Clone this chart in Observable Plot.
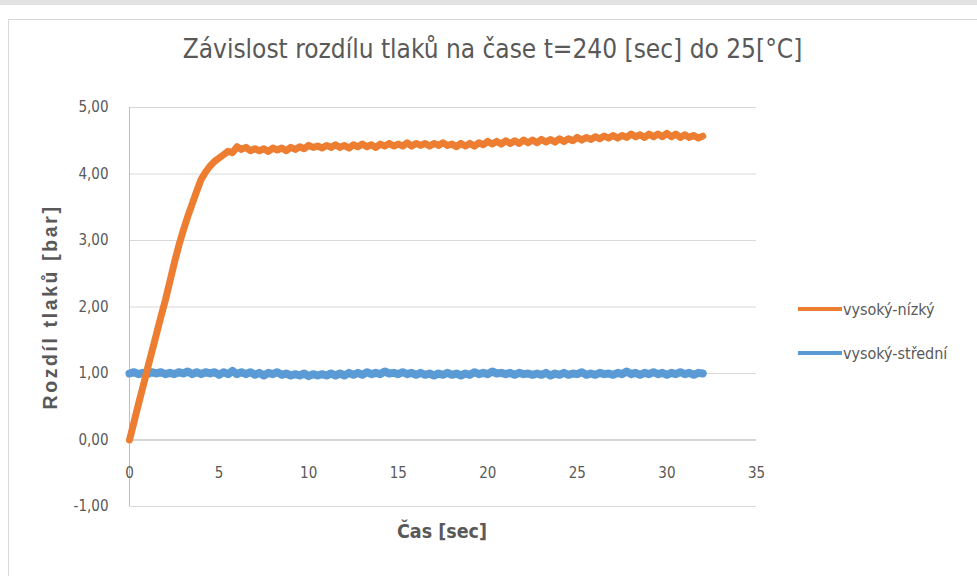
<!DOCTYPE html>
<html><head><meta charset="utf-8">
<script src="https://cdn.jsdelivr.net/npm/d3@7"></script>
<script src="https://cdn.jsdelivr.net/npm/@observablehq/plot@0.6"></script>
<style>
html,body{margin:0;padding:0;background:#fff;}
#wrap{position:relative;width:977px;height:576px;overflow:hidden;font-family:"Liberation Sans Narrow","DejaVu Sans Condensed",sans-serif;color:#595959;}
#topbar{position:absolute;left:0;top:0;width:977px;height:5px;background:#e3e3e3;}
#frame{position:absolute;left:8px;top:19px;width:985px;height:580px;border:1px solid #d9d9d9;}
#chart{position:absolute;left:0;top:0;}
#title{position:absolute;left:8px;width:969px;top:34px;text-align:center;font-size:26px;white-space:nowrap;}
#ylabel{position:absolute;left:50px;top:307px;transform:translate(-50%,-50%) rotate(-90deg);font-family:"Liberation Sans","DejaVu Sans",sans-serif;font-weight:bold;font-size:19.5px;letter-spacing:2.6px;white-space:nowrap;}
#xlabel{position:absolute;left:442px;top:531px;transform:translate(-50%,-50%);font-size:19.5px;font-weight:bold;white-space:nowrap;}
#legend{position:absolute;left:798px;top:298px;font-size:16px;}
.item{display:flex;align-items:center;height:22px;margin-bottom:22px;white-space:nowrap;}
.sw{display:inline-block;width:44px;height:4px;margin-right:1px;}
</style></head>
<body>
<div id="wrap">
  <div id="topbar"></div>
  <div id="frame"></div>
  <div id="chart"></div>
  <div id="title"></div>
  <div id="ylabel"></div>
  <div id="xlabel"></div>
  <div id="legend"></div>
</div>
<script>
const titleText = "Závislost rozdílu tlaků na čase t=240 [sec] do 25[°C]";
const yLabel = "Rozdíl tlaků [bar]";
const xLabel = "Čas [sec]";
const seriesNames = ["vysoký-nízký", "vysoký-střední"];
const seriesColors = ["#ED7D31", "#5B9BD5"];
const xTicks = [0, 5, 10, 15, 20, 25, 30, 35];
const yTicks = [-1, 0, 1, 2, 3, 4, 5];

const time = [0,0.25,0.5,0.75,1,1.25,1.5,1.75,2,2.25,2.5,2.75,3,3.25,3.5,3.75,4,4.25,4.5,4.75,
5,5.25,5.5,5.75,6,6.25,6.5,6.75,7,7.25,7.5,7.75,8,8.25,8.5,8.75,9,9.25,9.5,9.75,
10,10.25,10.5,10.75,11,11.25,11.5,11.75,12,12.25,12.5,12.75,13,13.25,13.5,13.75,14,14.25,14.5,14.75,
15,15.25,15.5,15.75,16,16.25,16.5,16.75,17,17.25,17.5,17.75,18,18.25,18.5,18.75,19,19.25,19.5,19.75,
20,20.25,20.5,20.75,21,21.25,21.5,21.75,22,22.25,22.5,22.75,23,23.25,23.5,23.75,24,24.25,24.5,24.75,
25,25.25,25.5,25.75,26,26.25,26.5,26.75,27,27.25,27.5,27.75,28,28.25,28.5,28.75,29,29.25,29.5,29.75,
30,30.25,30.5,30.75,31,31.25,31.5,31.75,32];

const vysokyNizky = [0.00,0.27,0.54,0.80,1.07,1.33,1.59,1.85,2.10,2.38,2.66,2.92,3.15,3.36,3.55,3.74,3.92,4.03,4.12,4.19,
4.24,4.29,4.34,4.32,4.41,4.37,4.40,4.35,4.38,4.35,4.38,4.34,4.39,4.36,4.39,4.35,4.40,4.37,4.41,4.38,
4.43,4.40,4.42,4.39,4.43,4.40,4.44,4.40,4.43,4.39,4.44,4.41,4.45,4.41,4.44,4.40,4.45,4.42,4.46,4.42,
4.45,4.42,4.47,4.42,4.46,4.43,4.46,4.42,4.46,4.43,4.47,4.43,4.45,4.41,4.46,4.42,4.46,4.42,4.47,4.44,
4.49,4.45,4.49,4.45,4.50,4.46,4.50,4.46,4.51,4.47,4.51,4.47,4.52,4.48,4.52,4.48,4.53,4.49,4.53,4.50,
4.55,4.51,4.55,4.52,4.56,4.53,4.57,4.54,4.58,4.54,4.58,4.55,4.60,4.56,4.59,4.55,4.60,4.56,4.60,4.56,
4.61,4.56,4.60,4.55,4.59,4.55,4.58,4.54,4.57];

const vysokyStredni = [1.00,1.02,0.99,1.01,0.99,1.02,1.00,1.02,0.99,1.01,
0.99,1.02,1.00,1.03,0.99,1.02,
0.99,1.02,1.00,1.02,0.98,1.02,0.99,1.04,0.99,1.02,
0.99,1.02,0.98,1.01,0.97,1.01,0.99,1.02,0.98,1.00,
0.97,0.99,0.97,1.00,0.96,0.99,0.97,0.99,0.97,1.00,
0.97,1.00,0.97,1.01,0.98,1.01,0.98,1.02,0.99,1.01,
0.99,1.03,1.00,1.01,0.99,1.02,0.99,1.01,0.98,1.01,
0.98,1.00,0.97,1.00,0.98,1.01,0.98,1.00,0.97,1.00,
0.98,1.02,0.99,1.01,0.99,1.03,1.00,1.01,0.99,1.01,
0.98,1.01,0.99,1.00,0.98,1.00,0.98,1.01,0.97,1.00,
0.98,1.01,0.98,1.00,0.99,1.02,0.98,1.00,0.98,1.01,
0.99,1.00,0.98,1.01,0.99,1.03,0.99,1.01,0.98,1.01,
0.99,1.02,0.99,1.01,0.98,1.01,0.99,1.02,0.99,1.01,
0.98,1.01,1.00];

const fmt = d => d.toFixed(2).replace(".", ",");
const rowsN = time.map((t, i) => ({t, v: vysokyNizky[i]}));
const rowsS = time.map((t, i) => ({t, v: vysokyStredni[i]}));

const chart = Plot.plot({
  width: 977, height: 576,
  marginLeft: 129, marginRight: 221, marginTop: 107, marginBottom: 70,
  style: {fontFamily: '"Liberation Sans Narrow","DejaVu Sans Condensed",sans-serif', fontSize: "15px", color: "#595959", background: "transparent"},
  x: {domain: [0, 35], axis: null},
  y: {domain: [-1, 5], axis: null},
  marks: [
    Plot.gridY(yTicks, {stroke: "#d9d9d9", strokeOpacity: 1}),
    Plot.ruleY([0], {stroke: "#bfbfbf"}),
    Plot.ruleX([0], {y1: -1, y2: 5, stroke: "#bfbfbf"}),
    Plot.axisY(yTicks, {tickSize: 0, tickPadding: 21, tickFormat: fmt, label: null, fill: "#595959"}),
    Plot.text(xTicks, {x: d => d, y: 0, dy: 33, text: d => String(d), fill: "#595959"}),
    Plot.line(rowsS, {x: "t", y: "v", stroke: seriesColors[1], strokeWidth: 8, strokeLinejoin: "round"}),
    Plot.line(rowsN, {x: "t", y: "v", stroke: seriesColors[0], strokeWidth: 7, strokeLinejoin: "round"})
  ]
});
document.getElementById("chart").appendChild(chart);
document.getElementById("title").textContent = titleText;
document.getElementById("ylabel").textContent = yLabel;
document.getElementById("xlabel").textContent = xLabel;
const lg = document.getElementById("legend");
seriesNames.forEach((n, i) => {
  const d = document.createElement("div");
  d.className = "item";
  d.innerHTML = `<span class="sw" style="background:${seriesColors[i]}"></span><span></span>`;
  d.lastChild.textContent = n;
  lg.appendChild(d);
});
</script>
</body></html>
